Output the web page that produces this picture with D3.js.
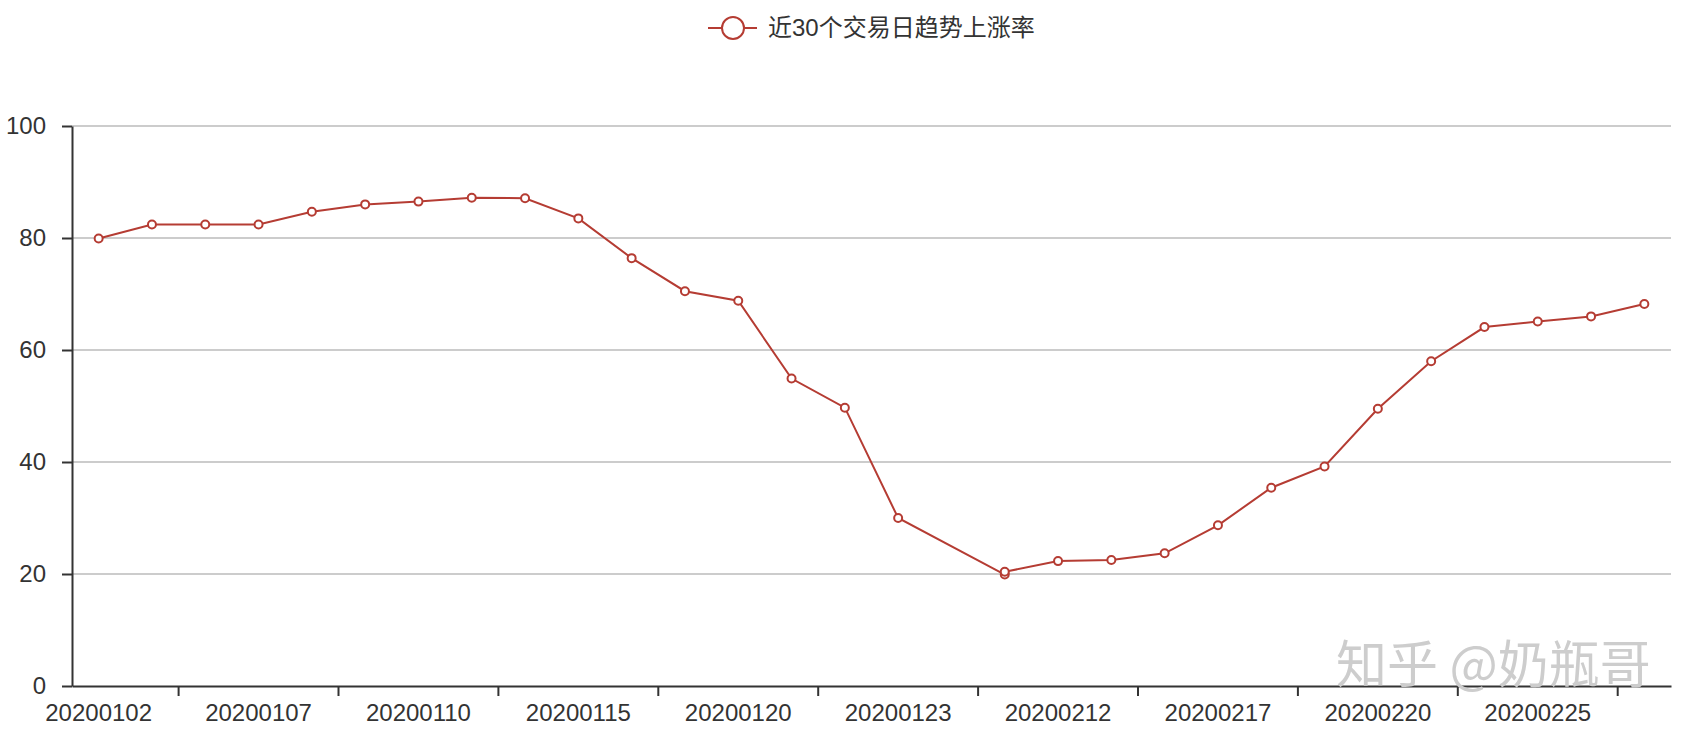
<!DOCTYPE html>
<html>
<head>
<meta charset="utf-8">
<script src="https://cdn.jsdelivr.net/npm/d3@7"></script>
<style>
  body { margin: 0; background: #fff; }
  text { font-family: "Liberation Sans", "Noto Sans CJK SC", sans-serif; }
</style>
</head>
<body>
<div id="chart"></div>
<script>
// x axis categories (30 trading days)
let categories = [
  "20200102", "20200103", "20200106", "20200107", "20200108", "20200109",
  "20200110", "20200113", "20200114", "20200115", "20200116", "20200117",
  "20200120", "20200121", "20200122", "20200123", "20200210", "20200211",
  "20200212", "20200213", "20200214", "20200217", "20200218", "20200219",
  "20200220", "20200221", "20200224", "20200225", "20200226", "20200227"
]

// series points: one date shows up twice, so one category has no point
let pointDates = [
  "20200102", "20200103", "20200106", "20200107", "20200108", "20200109",
  "20200110", "20200113", "20200114", "20200115", "20200116", "20200117",
  "20200120", "20200121", "20200122", "20200123", "20200211", "20200211",
  "20200212", "20200213", "20200214", "20200217", "20200218", "20200219",
  "20200220", "20200221", "20200224", "20200225", "20200226", "20200227"
]
let pointValues = [
  79.9, 82.4, 82.4, 82.4, 84.7, 86.0, 86.5, 87.2, 87.1, 83.5,
  76.4, 70.5, 68.8, 54.9, 49.7, 30.0, 19.9, 20.4, 22.3, 22.5,
  23.7, 28.7, 35.4, 39.2, 49.5, 58.0, 64.1, 65.1, 66.0, 68.2
]

let yTicks = [0, 20, 40, 60, 80, 100]
let seriesName = "近30个交易日趋势上涨率"
let watermark = "知乎 @奶瓶哥"

let width = 1692
let height = 732
let gLeft = 72, gRight = 1671, gTop = 126, gBottom = 686
let red = "#b53c33"

let svg = d3.select("#chart")
  .append("svg")
  .attr("width", width)
  .attr("height", height)

let x = d3.scaleBand()
  .domain(categories)
  .range([gLeft, gRight])
  .padding(0)

let y = d3.scaleLinear()
  .domain([0, 100])
  .range([gBottom, gTop])

// grid lines
svg.append("g")
  .selectAll("line")
  .data(yTicks.filter(d => d > 0))
  .enter()
  .append("line")
  .attr("x1", gLeft)
  .attr("x2", gRight)
  .attr("y1", d => y(d))
  .attr("y2", d => y(d))
  .attr("stroke", "#cccccc")
  .attr("stroke-width", 2)

// y axis
let yAxis = svg.append("g")
  .attr("transform", `translate(${gLeft},0)`)
  .call(d3.axisLeft(y).tickValues(yTicks).tickSize(10).tickSizeOuter(0).tickPadding(16))
yAxis.select(".domain").attr("stroke", "#333").attr("stroke-width", 2)
yAxis.selectAll(".tick line").attr("stroke", "#333").attr("stroke-width", 2)
yAxis.selectAll(".tick text")
  .attr("fill", "#333")
  .style("font-size", "24px")

// x axis: labels every 3rd category
let labelCats = categories.filter((d, i) => i % 3 == 0)
let xAxis = svg.append("g")
  .attr("transform", `translate(0,${gBottom})`)
  .call(d3.axisBottom(x).tickValues(labelCats).tickSize(0).tickSizeOuter(0))
xAxis.select(".domain").attr("stroke", "#333").attr("stroke-width", 2)
xAxis.selectAll(".tick text")
  .attr("y", 27)
  .attr("dy", "0.35em")
  .attr("fill", "#333")
  .style("font-size", "24px")

// x ticks sit on band boundaries
svg.append("g")
  .selectAll("line")
  .data(categories.filter((d, i) => i % 3 == 2))
  .enter()
  .append("line")
  .attr("x1", d => x(d))
  .attr("x2", d => x(d))
  .attr("y1", gBottom)
  .attr("y2", gBottom + 10)
  .attr("stroke", "#333")
  .attr("stroke-width", 2)

// series
let points = pointDates.map((d, i) => ({date: d, value: pointValues[i]}))
let cx = d => x(d.date) + x.bandwidth() / 2

svg.append("path")
  .datum(points)
  .attr("fill", "none")
  .attr("stroke", red)
  .attr("stroke-width", 2)
  .attr("d", d3.line().x(cx).y(d => y(d.value)))

svg.append("g")
  .selectAll("circle")
  .data(points)
  .enter()
  .append("circle")
  .attr("cx", cx)
  .attr("cy", d => y(d.value))
  .attr("r", 4)
  .attr("fill", "#fff")
  .attr("stroke", red)
  .attr("stroke-width", 2)

// legend
let legend = svg.append("g").attr("transform", "translate(708,28)")
legend.append("line")
  .attr("x1", 0).attr("x2", 49)
  .attr("stroke", red).attr("stroke-width", 2)
legend.append("circle")
  .attr("cx", 25).attr("r", 11)
  .attr("fill", "#fff").attr("stroke", red).attr("stroke-width", 2)
legend.append("text")
  .attr("x", 60)
  .attr("dy", "0.35em")
  .attr("fill", "#333")
  .style("font-size", "24px")
  .text(seriesName)

// watermark
svg.append("text")
  .attr("x", 1336)
  .attr("y", 683)
  .attr("fill", "#cdcdcd")
  .style("font-size", "51px")
  .style("font-family", "'Noto Sans CJK SC', sans-serif")
  .text(watermark)
</script>
</body>
</html>
